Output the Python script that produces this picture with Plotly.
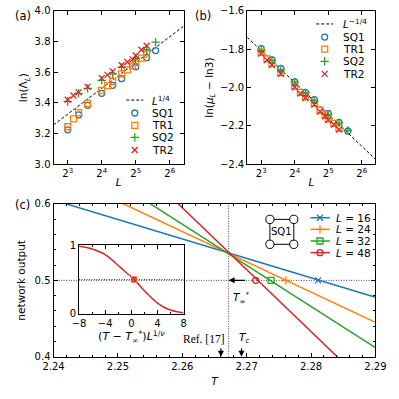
import numpy as np
import plotly.graph_objects as go

# ---------------- data ----------------
L_sq = [8, 10, 12, 16, 20, 24, 32, 40, 48]
L_tr = [8, 9, 10, 12, 16, 18, 20, 24, 27, 30, 32, 36, 40]

# panel (a): ln(Lambda_L)
lam_sq1 = [3.225, 3.322, 3.385, 3.463, 3.515, 3.558, 3.636, 3.695, 3.741]
lam_tr1 = [3.245, 3.297, 3.337, 3.397, 3.482, 3.513, 3.540, 3.589, 3.616, 3.642, 3.663, 3.692, 3.720]
lam_sq2 = [3.410, 3.463, 3.495, 3.547, 3.589, 3.632, 3.690, 3.747, 3.796]
lam_tr2 = [3.421, 3.449, 3.469, 3.505, 3.562, 3.583, 3.606, 3.646, 3.667, 3.684, 3.709, 3.747, 3.773]
fit_L = [5.99, 85.0]
fit_a = [3.257, 3.900]

# panel (b): ln(mu_L - ln3)
mu_sq1 = [-1.797, -1.856, -1.900, -1.970, -2.026, -2.063, -2.134, -2.181, -2.226]
mu_tr1 = [-1.815, -1.850, -1.875, -1.922, -1.992, -2.025, -2.048, -2.082, -2.118, -2.143, -2.163, -2.186, -2.212]
mu_sq2 = [-1.807, -1.858, -1.906, -1.970, -2.026, -2.066, -2.139, -2.184, -2.223]
mu_tr2 = [-1.823, -1.856, -1.882, -1.928, -1.998, -2.031, -2.054, -2.088, -2.124, -2.149, -2.169, -2.192, -2.218]
fit_b = [-1.738, -2.373]

# panel (c): network output vs T
T_line = [2.24, 2.29]
L_sizes = [16, 24, 32, 48]
out_lines = [[0.605, 0.478], [0.643, 0.445], [0.681, 0.412], [0.757, 0.352]]
T_half = [2.2811, 2.2761, 2.2738, 2.2714]
T_star = 2.2672
T_ref17 = 2.2660
T_c = 2.2692

# inset: data collapse
coll_x = [-8, -7, -6, -5, -4, -3, -2, -1, 0, 1, 2, 3, 4, 5, 6, 7, 8]
coll_y = [0.985, 0.97, 0.945, 0.91, 0.865, 0.79, 0.705, 0.62, 0.54, 0.44,
          0.335, 0.24, 0.155, 0.095, 0.055, 0.03, 0.015]
coll_x0 = 0.4

blue, orange, green, red = "#1f77b4", "#ff7f0e", "#2ca02c", "#d62728"
FONT = "DejaVu Sans"
W = H = 399


def px(x):
    return x / W


def py(y):
    return 1 - y / H


fig = go.Figure()

series = [("SQ1", "circle-open", blue), ("TR1", "square-open", orange),
          ("SQ2", "cross-thin-open", green), ("TR2", "x-thin-open", red)]


def mk(sym, col, size=6):
    return dict(symbol=sym, size=size, color=col, line=dict(width=1.3, color=col))


# (a)
fig.add_trace(go.Scatter(x=fit_L, y=fit_a, mode="lines", xaxis="x", yaxis="y",
                         line=dict(color="black", width=1, dash="3px,2px")))
for (name, sym, col), Ls, vals in zip(series, [L_sq, L_tr, L_sq, L_tr],
                                       [lam_sq1, lam_tr1, lam_sq2, lam_tr2]):
    fig.add_trace(go.Scatter(x=Ls, y=vals, mode="markers", xaxis="x", yaxis="y",
                             marker=mk(sym, col)))
# (b)
fig.add_trace(go.Scatter(x=fit_L, y=fit_b, mode="lines", xaxis="x2", yaxis="y2",
                         line=dict(color="black", width=1, dash="3px,2px")))
for (name, sym, col), Ls, vals in zip(series, [L_sq, L_tr, L_sq, L_tr],
                                       [mu_sq1, mu_tr1, mu_sq2, mu_tr2]):
    fig.add_trace(go.Scatter(x=Ls, y=vals, mode="markers", xaxis="x2", yaxis="y2",
                             marker=mk(sym, col)))

# (c)
c_cols = [blue, orange, green, red]
c_syms = ["x-thin-open", "cross-thin-open", "square-open", "circle-open"]
fig.add_trace(go.Scatter(x=T_line, y=[0.5, 0.5], mode="lines", xaxis="x3", yaxis="y3",
                         line=dict(color="#444", width=1, dash="1px,1.5px")))
fig.add_trace(go.Scatter(x=[T_star, T_star], y=[0.4, 0.6], mode="lines", xaxis="x3", yaxis="y3",
                         line=dict(color="#444", width=1, dash="1px,1.5px")))
for col, sym, vals, th in zip(c_cols, c_syms, out_lines, T_half):
    fig.add_trace(go.Scatter(x=T_line, y=vals, mode="lines", xaxis="x3", yaxis="y3",
                             line=dict(color=col, width=1.5)))
    fig.add_trace(go.Scatter(x=[th], y=[0.5], mode="markers", xaxis="x3", yaxis="y3",
                             marker=mk(sym, col, 6)))

# inset
fig.add_trace(go.Scatter(x=[-8, 8], y=[0.5, 0.5], mode="lines", xaxis="x4", yaxis="y4",
                         line=dict(color="#444", width=1, dash="1px,1.5px")))
fig.add_trace(go.Scatter(x=coll_x, y=coll_y, mode="lines", xaxis="x4", yaxis="y4",
                         line=dict(color=red, width=1.5, shape="spline", smoothing=1)))
fig.add_trace(go.Scatter(x=[coll_x0], y=[0.5], mode="markers", xaxis="x4", yaxis="y4",
                         marker=mk("square-open", orange, 5)))
fig.add_trace(go.Scatter(x=[coll_x0], y=[0.5], mode="markers", xaxis="x4", yaxis="y4",
                         marker=mk("circle-open", red, 4)))

# ---- legend keys (overlay axis in pixel units) ----
annots = []
LEG = 10.5


def legend(rows, x_line, x_mark, x_text, entries, with_line):
    for yy, (label, sym, col) in zip(rows, entries):
        if sym is None:
            fig.add_trace(go.Scatter(x=x_line, y=[yy, yy], mode="lines", xaxis="x5", yaxis="y5",
                                     line=dict(color="black", width=1, dash="3px,2px")))
        else:
            if with_line:
                fig.add_trace(go.Scatter(x=x_line, y=[yy, yy], mode="lines", xaxis="x5", yaxis="y5",
                                         line=dict(color=col, width=1.5)))
            fig.add_trace(go.Scatter(x=[x_mark], y=[yy], mode="markers", xaxis="x5", yaxis="y5",
                                     marker=mk(sym, col)))
        annots.append(dict(x=px(x_text), y=py(yy), xref="paper", yref="paper", text=label,
                           showarrow=False, xanchor="left", yanchor="middle",
                           font=dict(size=LEG, color="black", family=FONT)))


ent_a = [("<i>L</i><sup>1/4</sup>", None, "black")] + [(n, s, c) for n, s, c in series]
legend([97, 110.3, 123, 135.5, 148.5], [122, 140], 131, 147, ent_a, False)
ent_b = [("<i>L</i><sup>−1/4</sup>", None, "black")] + [(n, s, c) for n, s, c in series]
legend([18.5, 32, 44.5, 57, 70], [323, 341], 332, 349, ent_b, False)
ent_c = [("<i>L</i> = %d" % l, s, c) for l, s, c in zip(L_sizes, c_syms, c_cols)]
legend([218.3, 230.3, 242.3, 254.3], [317, 337.5], 327, 342, ent_c, True)

# SQ1 schematic
shapes = [dict(type="rect", xref="paper", yref="paper", x0=px(274), x1=px(299.3),
               y0=py(245.7), y1=py(220), line=dict(color="black", width=1))]
for cx, cy in [(274, 220), (299.3, 220), (274, 245.7), (299.3, 245.7)]:
    shapes.append(dict(type="circle", xref="paper", yref="paper", x0=px(cx - 4.3), x1=px(cx + 4.3),
                       y0=py(cy + 4.3), y1=py(cy - 4.3), fillcolor="white",
                       line=dict(color="black", width=1)))
annots.append(dict(x=px(286.7), y=py(233), xref="paper", yref="paper", text="SQ1",
                   showarrow=False, xanchor="center", yanchor="middle",
                   font=dict(size=10, color="black", family=FONT)))

# panel labels
for lab, x, y in [("(a)", 2, 10), ("(b)", 193, 10), ("(c)", 2, 205)]:
    annots.append(dict(x=px(x), y=py(y), xref="paper", yref="paper", text=lab, showarrow=False,
                       xanchor="left", yanchor="middle", font=dict(size=11.5, color="black", family=FONT)))

# arrows in (c)
annots.append(dict(x=T_star, y=0.5, xref="x3", yref="y3", ax=T_star + 0.00275, ay=0.5,
                   axref="x3", ayref="y3", text="", showarrow=True, arrowhead=2,
                   arrowsize=1, arrowwidth=1.2, arrowcolor="black"))
annots.append(dict(x=T_star + 0.0004, y=0.5, xref="x3", yref="y3", yshift=-18,
                   text="<i>T</i><sub>∞</sub><sup>*</sup>", showarrow=False, xanchor="left",
                   font=dict(size=10.5, color="black", family=FONT)))
for tv in [T_ref17, T_c]:
    annots.append(dict(x=tv, y=0.4, xref="x3", yref="y3", ax=0, ay=-10, text="",
                       showarrow=True, arrowhead=2, arrowsize=1, arrowwidth=1.2,
                       arrowcolor="black"))
annots.append(dict(x=T_ref17, y=0.4, xref="x3", yref="y3", xshift=6, yshift=10,
                   text="Ref. [17]", showarrow=False, xanchor="right", yanchor="bottom",
                   font=dict(size=11.5, color="black", family="Liberation Serif")))
annots.append(dict(x=T_c, y=0.4, xref="x3", yref="y3", xshift=2, yshift=10,
                   text="<i>T</i><sub><i>c</i></sub>", showarrow=False, xanchor="center",
                   yanchor="bottom", font=dict(size=10.5, color="black", family=FONT)))

tickfont = dict(size=10, color="black", family=FONT)
base = dict(showline=True, linecolor="black", linewidth=1, mirror="ticks", ticks="inside",
            ticklen=4, tickwidth=1, tickcolor="black", showgrid=False, zeroline=False,
            tickfont=tickfont)
logx = dict(type="log", range=[np.log10(5.99), np.log10(85.0)], tickvals=[8, 16, 32, 64],
            ticktext=["2<sup>3</sup>", "2<sup>4</sup>", "2<sup>5</sup>", "2<sup>6</sup>"])
title_font = dict(size=10.5, color="black", family=FONT)

fig.update_layout(
    width=W, height=H, margin=dict(l=0, r=0, t=0, b=0), showlegend=False,
    paper_bgcolor="white", plot_bgcolor="rgba(0,0,0,0)",
    font=dict(family=FONT, color="black"),
    xaxis=dict(**base, **logx, domain=[px(45), px(182.7)], anchor="y",
               title=dict(text="<i>L</i>", font=title_font, standoff=0)),
    yaxis=dict(**base, range=[3.0, 4.0], dtick=0.2, tickformat=".1f",
               domain=[py(163.3), py(5)], anchor="x",
               title=dict(text="ln(Λ<sub><i>L</i></sub>)", font=title_font, standoff=4)),
    xaxis2=dict(**base, **logx, domain=[px(250), px(385.7)], anchor="y2",
                title=dict(text="<i>L</i>", font=title_font, standoff=0)),
    yaxis2=dict(**base, range=[-2.4, -1.6], dtick=0.2, tickformat=".1f",
                domain=[py(163.3), py(5)], anchor="x2",
                title=dict(text="ln(<i>μ</i><sub><i>L</i></sub> − ln3)", font=title_font, standoff=4)),
    xaxis3=dict(**base, range=[2.24, 2.29], dtick=0.01, tickformat=".2f",
                minor=dict(dtick=0.002, ticks="inside", ticklen=2, tickcolor="black"),
                domain=[px(45), px(385.7)], anchor="y3",
                title=dict(text="<i>T</i>", font=title_font, standoff=6)),
    yaxis3=dict(**base, range=[0.4, 0.6], dtick=0.1, tickformat=".1f",
                minor=dict(dtick=0.02, ticks="inside", ticklen=2, tickcolor="black"),
                domain=[py(361.7), py(204)], anchor="x3",
                title=dict(text="network output", font=title_font, standoff=6)),
    xaxis4=dict(**base, range=[-8, 8], tickvals=[-8, -4, 0, 4, 8],
                minor=dict(dtick=2, ticks="inside", ticklen=2, tickcolor="black"),
                domain=[px(72), px(182.7)], anchor="y4",
                title=dict(text="(<i>T</i> − <i>T</i><sub>∞</sub><sup>*</sup>)<i>L</i><sup>1/<i>ν</i></sup>",
                           font=dict(size=11, color="black", family=FONT), standoff=0)),
    yaxis4=dict(**base, range=[0, 1], tickvals=[0, 1], domain=[py(317.3), py(246.7)], anchor="x4"),
    xaxis5=dict(range=[0, W], domain=[0, 1], anchor="y5", visible=False, fixedrange=True),
    yaxis5=dict(range=[H, 0], domain=[0, 1], anchor="x5", visible=False, fixedrange=True),
    annotations=annots, shapes=shapes,
)

fig.write_html("out.html", config={"displayModeBar": False},
               post_script="document.body.style.margin='0px';")
